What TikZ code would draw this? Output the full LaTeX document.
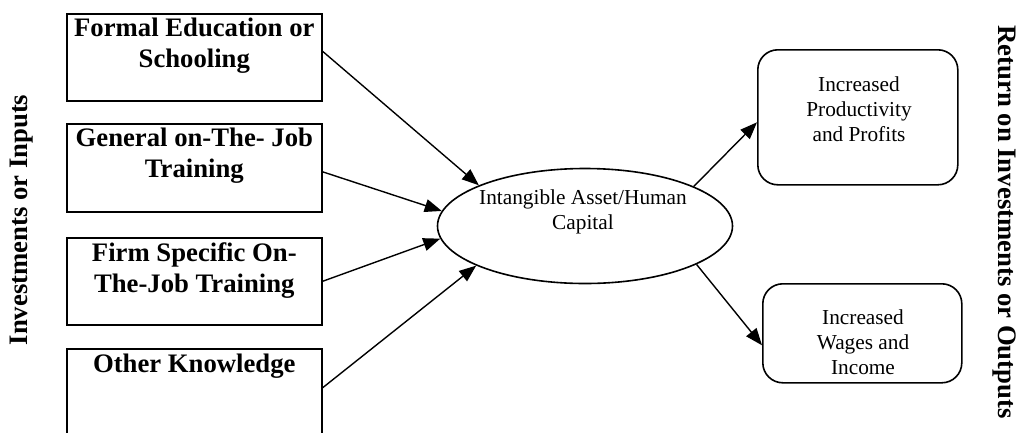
\documentclass[tikz,border=0pt]{standalone}
\usepackage{fontspec}
\setmainfont{Liberation Serif}
\usetikzlibrary{shapes.geometric,arrows.meta,calc}
\begin{document}
\begin{tikzpicture}[x=1pt,y=-1pt,
  inbox/.style={draw, line width=1.6pt, minimum width=255pt, minimum height=87pt, inner sep=0pt, anchor=north west},
  outbox/.style={draw, line width=1.6pt, rounded corners=20pt, inner sep=0pt, anchor=north west},
  boldtxt/.style={font=\fontsize{26.7}{31}\selectfont\bfseries, align=center, inner sep=0pt, anchor=north},
  regtxt/.style={font=\fontsize{21.3}{25}\selectfont, align=center, inner sep=0pt, anchor=north},
  sidelab/.style={font=\fontsize{26.7}{31}\selectfont\bfseries, inner sep=0pt},
  arr/.style={line width=1.4pt, -{Triangle[length=17pt,width=13pt]}}]
\useasboundingbox (0,0) rectangle (1022,432);
\clip (0,0) rectangle (1022,432);

% left input boxes
\node[inbox] (b1) at (66,13) {};
\node[inbox, minimum height=88pt] (b2) at (66,123) {};
\node[inbox] (b3) at (66,237) {};
\node[inbox, minimum height=92pt] (b4) at (66,348) {};

\node[boldtxt] (t1) at ($(b1.north)+(0,5)$) {Formal Education or\\Schooling};
\node[boldtxt] (t2) at ($(b2.north)+(0,5)$) {General on-The- Job\\Training};
\node[boldtxt] (t3) at ($(b3.north)+(0,5)$) {Firm Specific On-\\The-Job Training};
\node[boldtxt] (t4) at ($(b4.north)+(0,6)$) {Other Knowledge};

% central ellipse
\node[ellipse, draw, line width=1.6pt, minimum width=295pt, minimum height=115pt, inner sep=0pt] (e) at (585,226) {};
\node[regtxt] (et) at (583,190) {Intangible Asset/Human\\Capital};

% right output boxes
\node[outbox, minimum width=200pt, minimum height=135pt] (r1) at (757,49) {};
\node[outbox, minimum width=199pt, minimum height=99pt] (r2) at (762,283) {};
\node[regtxt] (rt1) at (859,77) {Increased\\Productivity\\and Profits};
\node[regtxt] (rt2) at (863,310) {Increased\\Wages and\\Income};

% side labels
\node[sidelab, rotate=90] (L) at (22,220) {Investments or Inputs};
\node[sidelab, rotate=-90] (R) at (1004,222) {Return on Investments or Outputs};

% connectors
\draw[arr] ($(b1.east)+(0,-6)$) -- (e.159);
\draw[arr] ($(b2.east)+(0,4)$) -- (e.174);
\draw[arr] (b3.east) -- (e.185);
\draw[arr] ($(b4.east)+(0,-7)$) -- (e.200);
\draw[arr] (e.20) -- ($(r1.west)+(0,5)$);
\draw[arr] (e.341) -- ($(r2.west)+(0,12)$);
\end{tikzpicture}
\end{document}
